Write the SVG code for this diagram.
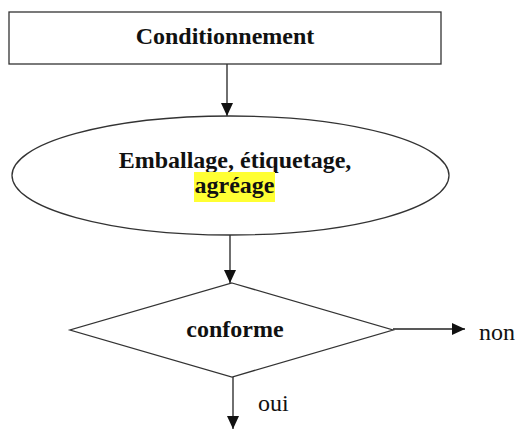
<svg xmlns="http://www.w3.org/2000/svg" width="518" height="429" viewBox="0 0 518 429">
<defs>
<marker id="ah" markerWidth="13" markerHeight="12" refX="13" refY="6" orient="auto" markerUnits="userSpaceOnUse">
<path d="M0,0 L13,6 L0,12 Z" fill="#111"/>
</marker>
<style>
.shape{fill:#fff;stroke:#333;stroke-width:1.3}
.conn{fill:none;stroke:#222;stroke-width:1.3;marker-end:url(#ah)}
.b{font-family:"Liberation Serif","Times New Roman",serif;font-weight:bold;font-size:24px;fill:#111;text-anchor:middle}
.r{font-family:"Liberation Serif","Times New Roman",serif;font-size:24px;fill:#111}
</style>
</defs>
<rect width="518" height="429" fill="#fff"/>
<g id="connectors">
<line class="conn" x1="227" y1="64" x2="227" y2="116"/>
<line class="conn" x1="230" y1="235" x2="230" y2="283"/>
<line class="conn" x1="393" y1="329" x2="465" y2="329"/>
<line class="conn" x1="233" y1="377" x2="233" y2="429"/>
</g>
<g id="conditionnement">
<rect class="shape" x="9" y="12" width="432" height="52"/>
<text class="b" x="225" y="44">Conditionnement</text>
</g>
<g id="emballage">
<ellipse class="shape" cx="230.5" cy="175.5" rx="218.5" ry="59.5"/>
<text class="b" x="235" y="168">Emballage, étiquetage,</text>
<rect x="194" y="172" width="81" height="30" fill="#ffff33"/>
<text class="b" x="234.5" y="193">agréage</text>
</g>
<g id="conforme">
<polygon class="shape" points="232,283 393,330 232,377 70,330"/>
<text class="b" x="235" y="337">conforme</text>
</g>
<g id="labels">
<text class="r" x="479" y="340">non</text>
<text class="r" x="258" y="411">oui</text>
</g>
</svg>
